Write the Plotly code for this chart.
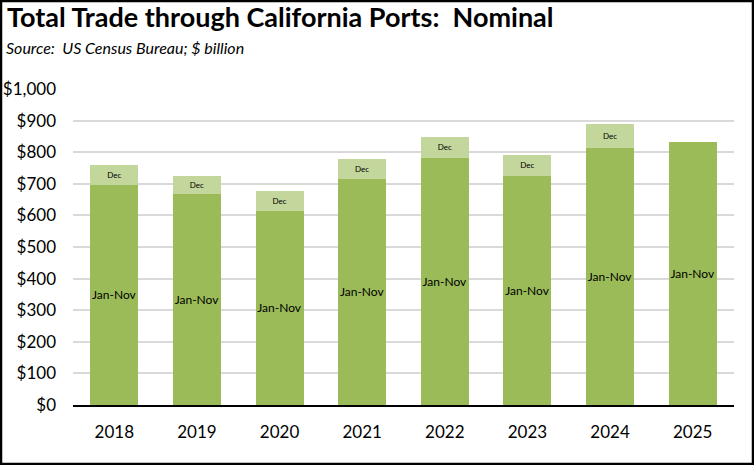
import plotly.graph_objects as go

# Data ($ billion)
years = ["2018", "2019", "2020", "2021", "2022", "2023", "2024", "2025"]
jan_nov = [697, 668, 615, 716, 783, 726, 814, 833]
dec = [63, 58, 62, 63, 66, 66, 76, 0]

jan_nov_labels = ["Jan-Nov"] * len(years)
dec_labels = ["Dec"] * 7 + [""]

col_main = "#9BBB59"
col_dec = "#C3D69B"
font_fam = "Lato"

fig = go.Figure()
fig.add_trace(go.Bar(
    x=years, y=jan_nov, name="Jan-Nov",
    marker=dict(color=col_main, line=dict(width=0)),
    text=jan_nov_labels, textposition="inside", insidetextanchor="middle",
    textangle=0, constraintext="none",
    textfont=dict(family=font_fam, size=12, color="black"),
))
fig.add_trace(go.Bar(
    x=years, y=dec, name="Dec",
    marker=dict(color=col_dec, line=dict(width=0)),
    text=dec_labels, textposition="inside", insidetextanchor="middle",
    textangle=0, constraintext="none",
    textfont=dict(family=font_fam, size=8, color="black"),
))

# plot area: x 73..734, y 89..405 in a 754x465 page
L, R, T, B = 73, 20, 89, 60
pw, ph = 754 - L - R, 465 - T - B

fig.update_layout(
    width=754, height=465,
    barmode="stack", bargap=0.42,
    showlegend=False,
    plot_bgcolor="white", paper_bgcolor="white",
    margin=dict(l=L, r=R, t=T, b=B, pad=0, autoexpand=False),
    font=dict(family=font_fam, size=16, color="black"),
    title=dict(
        text="<b>Total Trade through California Ports:  Nominal</b>",
        xref="container", yref="container",
        x=7 / 754, xanchor="left", y=1 - 8 / 465, yanchor="top",
        font=dict(family=font_fam, size=27, color="black"),
    ),
)

fig.add_annotation(
    text="<i>Source:  US Census Bureau; $ billion</i>",
    xref="paper", yref="paper",
    x=(4 - L) / pw, xanchor="left",
    y=(405 - 48) / ph, yanchor="middle",
    showarrow=False,
    font=dict(family=font_fam, size=16, color="black"),
)

# outer frame
fig.add_shape(
    type="rect", xref="paper", yref="paper",
    x0=(1 - L) / pw, x1=(753 - L) / pw,
    y0=(405 - 464) / ph, y1=(405 - 1) / ph,
    line=dict(color="black", width=2.5),
)

fig.update_yaxes(
    range=[0, 1000], dtick=100,
    tickprefix="$", tickformat=",",
    showgrid=True, gridcolor="#D9D9D9", gridwidth=2,
    zeroline=False, showline=False, automargin=False,
    ticklabelstandoff=16,
    tickfont=dict(family=font_fam, size=17),
)
fig.update_xaxes(
    showgrid=False, showline=True, linecolor="black", linewidth=2,
    ticks="", ticklabelstandoff=11, automargin=False,
    tickfont=dict(family=font_fam, size=17),
)

fig.write_html("out.html", config={"displayModeBar": False},
               post_script="document.body.style.margin='0';")
